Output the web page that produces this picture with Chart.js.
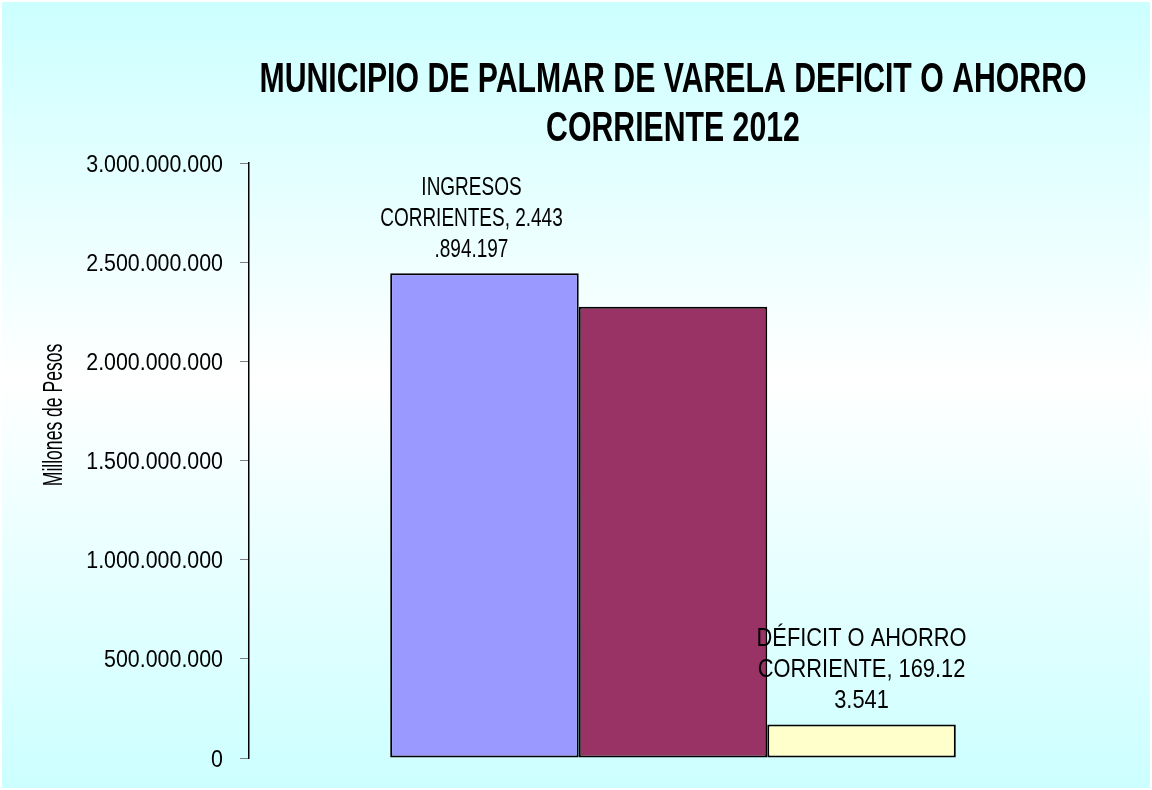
<!DOCTYPE html>
<html>
<head>
<meta charset="utf-8">
<script src="https://cdn.jsdelivr.net/npm/chart.js@4/dist/chart.umd.min.js"></script>
<style>
  html, body { margin: 0; padding: 0; background: #ffffff; }
  #c { display: block; }
</style>
</head>
<body>
<canvas id="c" width="1152" height="790"></canvas>
<script>
// ---- data ----
const categories = ['2012'];
const seriesNames = ['INGRESOS CORRIENTES', 'GASTOS CORRIENTES', 'DÉFICIT O AHORRO CORRIENTE'];
const seriesValues = [2443894197, 2274770656, 169123541];
const seriesColors = ['#9999FF', '#993366', '#FFFFCC'];
const dataLabelLines = [
  ['INGRESOS', 'CORRIENTES, 2.443', '.894.197'],
  null,
  ['DÉFICIT O AHORRO', 'CORRIENTE, 169.12', '3.541']
];
const titleLines = ['MUNICIPIO DE PALMAR DE VARELA DEFICIT O AHORRO', 'CORRIENTE 2012'];
const yAxisTitle = 'Millones de Pesos';
const yMin = 0, yMax = 3000000000, yStep = 500000000;

function fmt(v) {
  return String(Math.round(v)).replace(/\B(?=(\d{3})+(?!\d))/g, '.');
}

function condensedText(ctx, text, x, y, size, bold, sx, rot, align) {
  ctx.save();
  ctx.translate(x, y);
  if (rot) ctx.rotate(rot);
  ctx.scale(sx, 1);
  ctx.font = (bold ? 'bold ' : '') + size + 'px "Liberation Sans", Arial, sans-serif';
  ctx.fillStyle = '#000000';
  ctx.textAlign = align || 'center';
  ctx.textBaseline = 'alphabetic';
  ctx.fillText(text, 0, 0);
  ctx.restore();
}

const bgPlugin = {
  id: 'bg',
  beforeDraw(chart) {
    const ctx = chart.ctx;
    const w = chart.width, h = chart.height;
    ctx.save();
    ctx.fillStyle = '#ffffff';
    ctx.fillRect(0, 0, w, h);
    const g = ctx.createLinearGradient(0, 0, 0, h);
    g.addColorStop(0, '#CCFFFF');
    g.addColorStop(0.48, '#FFFFFF');
    g.addColorStop(1, '#CCFFFF');
    ctx.fillStyle = g;
    ctx.fillRect(2, 2, w - 4, h - 4);
    ctx.restore();
  }
};

// label styling per dataset (horizontal nudge and condensation)
const labelStyles = [
  { dx: -13, sx: 0.73 },
  null,
  { dx: 0, sx: 0.84 }
];

const textPlugin = {
  id: 'texts',
  afterDraw(chart) {
    const ctx = chart.ctx;
    const ca = chart.chartArea;
    const cx = (ca.left + ca.right) / 2;
    // title
    condensedText(ctx, titleLines[0], cx, 92, 42, true, 0.72);
    condensedText(ctx, titleLines[1], cx, 141, 42, true, 0.72);
    // y axis title
    condensedText(ctx, yAxisTitle, 62, 415, 27, false, 0.65, -Math.PI / 2);
    // y tick labels (slightly tall glyphs)
    const ys = chart.scales.y;
    ys.ticks.forEach((t) => {
      const py = ys.getPixelForValue(t.value);
      condensedText(ctx, fmt(t.value), ca.left - 26, py + 8.5, 23.5, false, 0.91, 0, 'right');
    });
    // data labels
    chart.data.datasets.forEach((ds, i) => {
      const lines = dataLabelLines[i];
      const st = labelStyles[i];
      if (!lines || !st) return;
      const bar = chart.getDatasetMeta(i).data[0];
      const lastBase = bar.y - 16;
      for (let k = 0; k < lines.length; k++) {
        const yb = lastBase - (lines.length - 1 - k) * 31;
        condensedText(ctx, lines[k], bar.x + st.dx, yb, 26, false, st.sx);
      }
    });
  }
};

new Chart(document.getElementById('c'), {
  type: 'bar',
  data: {
    labels: categories,
    datasets: seriesNames.map((name, i) => ({
      label: name,
      data: [seriesValues[i]],
      backgroundColor: seriesColors[i],
      borderColor: '#000000',
      borderWidth: 2,
      borderSkipped: false,
      categoryPercentage: 0.667,
      barPercentage: 1.0
    }))
  },
  options: {
    responsive: false,
    animation: false,
    devicePixelRatio: 1,
    layout: { padding: { left: 0, right: 55, top: 163, bottom: 32 } },
    plugins: {
      legend: { display: false },
      title: { display: false },
      tooltip: { enabled: false }
    },
    scales: {
      x: { display: false },
      y: {
        min: yMin,
        max: yMax,
        afterFit(scale) { scale.width = 249; },
        ticks: {
          stepSize: yStep,
          padding: 17,
          color: 'rgba(0,0,0,0)',
          font: { family: '"Liberation Sans", Arial, sans-serif', size: 21.5 },
          callback: (v) => fmt(v)
        },
        grid: { drawOnChartArea: false, drawTicks: true, tickLength: 9, tickColor: '#808080', tickWidth: 1 },
        border: { display: true, color: '#000000', width: 1.5 }
      }
    }
  },
  plugins: [bgPlugin, textPlugin]
});
</script>
</body>
</html>
